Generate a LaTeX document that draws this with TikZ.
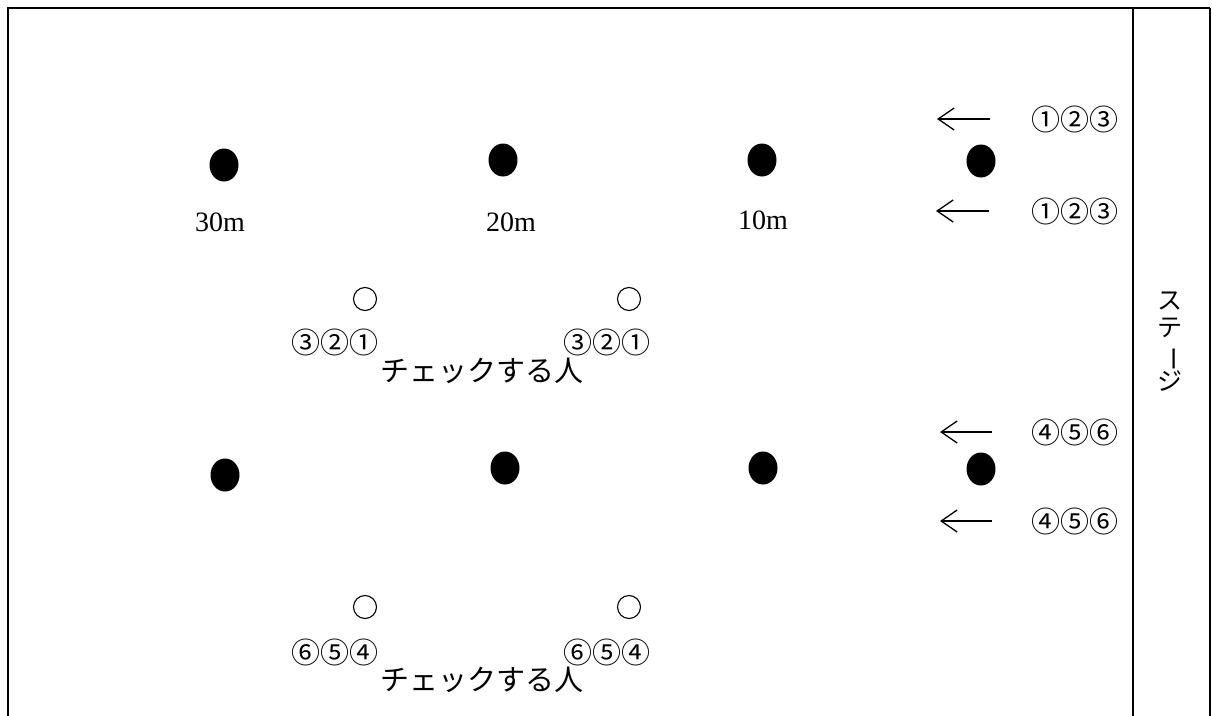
\documentclass[tikz,border=0pt]{standalone}
\usepackage{fontspec}
\setmainfont{Liberation Serif}
\newfontfamily\jp{Noto Sans CJK JP}
\usetikzlibrary{arrows.meta,shapes.geometric}
\begin{document}
\begin{tikzpicture}[x=1pt,y=-1pt,
  dot/.style={ellipse,fill=black,inner sep=0,minimum width=29pt,minimum height=33pt},
  hole/.style={circle,draw,line width=1.1pt,inner sep=0,minimum size=23pt},
  dist/.style={font=\fontsize{28}{30}\selectfont,inner sep=0},
  num/.style={font=\jp\fontsize{29}{31}\selectfont,inner sep=0},
  who/.style={font=\jp\fontsize{29}{31}\selectfont,inner sep=0},
  stagetext/.style={font=\jp\fontsize{25}{27}\selectfont,inner sep=0,align=center},
  runarrow/.style={line width=1.3pt,-{Straight Barb[length=16pt,width=22pt,line width=1.3pt]}},
  frameline/.style={line width=2.5pt},
  thinline/.style={line width=1.4pt}]
\useasboundingbox (0,0) rectangle (1212,715);
% frame
\coordinate (fbl) at (8,720);
\coordinate (ftl) at (8,8);
\coordinate (ftr) at (1210,8);
\coordinate (fbr) at (1210,720);
\coordinate (stop) at (1133,8);
\coordinate (sbot) at (1133,720);
\draw[frameline] (fbl) -- (ftl) -- (ftr);
\draw[line width=2pt] (ftr) -- (fbr);
\draw[thinline] (stop) -- (sbot);
% stage
\node[stagetext] (stage) at (1170,342) {ス\\テ\\\rotatebox[origin=c]{-90}{ー}\\ジ};
% row 1 dots
\node[dot] (a1) at (224,165) {};
\node[dot] (a2) at (503,160) {};
\node[dot] (a3) at (762,160) {};
\node[dot] (a4) at (981,161) {};
\node[dist] (l30) at (220,222) {30m};
\node[dist] (l20) at (511,222) {20m};
\node[dist] (l10) at (763,220) {10m};
% row 1 arrows
\coordinate (ar1s) at (990,119);
\coordinate (ar1e) at (937,119);
\coordinate (ar2s) at (989,211);
\coordinate (ar2e) at (936,211);
\draw[runarrow] (ar1s) -- (ar1e);
\draw[runarrow] (ar2s) -- (ar2e);
\node[num] (n1) at (1075,119) {①②③};
\node[num] (n2) at (1075,211) {①②③};
% checkers 1
\node[hole] (c1) at (365,299) {};
\node[hole] (c2) at (629,299) {};
\node[num] (k1) at (335,342) {③②①};
\node[num] (k2) at (607,342) {③②①};
\node[who] (w1) at (482,371) {チェックする人};
% row 2 dots
\node[dot] (b1) at (225,475) {};
\node[dot] (b2) at (505,468) {};
\node[dot] (b3) at (763,468) {};
\node[dot] (b4) at (981,469) {};
% row 2 arrows
\coordinate (ar3s) at (992,432);
\coordinate (ar3e) at (940,432);
\coordinate (ar4s) at (992,521);
\coordinate (ar4e) at (940,521);
\draw[runarrow] (ar3s) -- (ar3e);
\draw[runarrow] (ar4s) -- (ar4e);
\node[num] (n3) at (1075,432) {④⑤⑥};
\node[num] (n4) at (1075,521) {④⑤⑥};
% checkers 2
\node[hole] (c3) at (365,607) {};
\node[hole] (c4) at (629,607) {};
\node[num] (k3) at (335,652) {⑥⑤④};
\node[num] (k4) at (607,652) {⑥⑤④};
\node[who] (w2) at (482,680) {チェックする人};
\end{tikzpicture}
\end{document}
